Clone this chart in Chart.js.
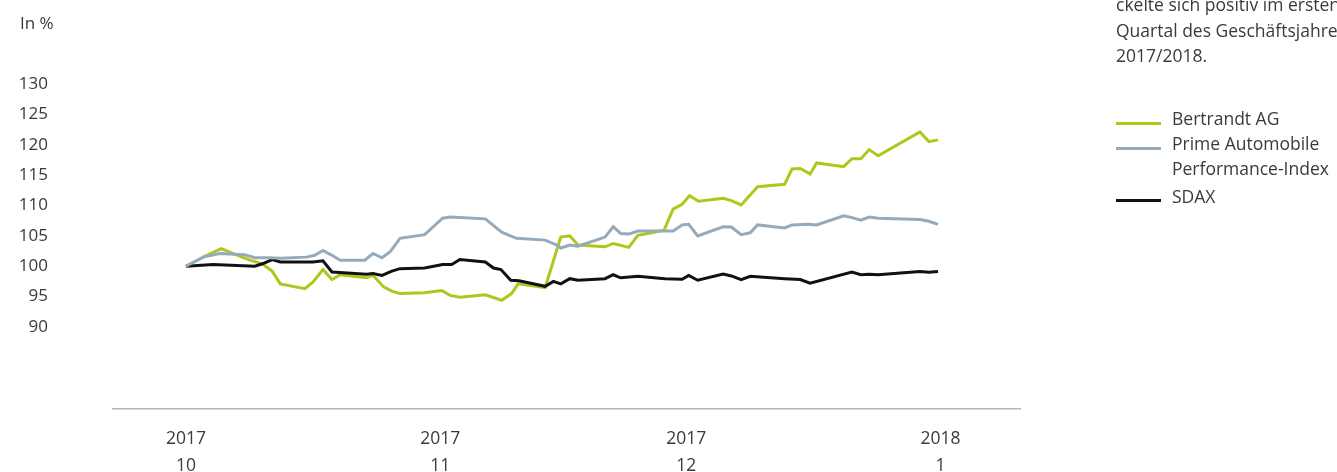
<!DOCTYPE html>
<html>
<head>
<meta charset="utf-8">
<script src="https://cdn.jsdelivr.net/npm/chart.js@4.4.1/dist/chart.umd.min.js"></script>
<style>
  html, body { margin: 0; padding: 0; background: #fff; }
  body { width: 1337px; height: 472px; overflow: hidden; position: relative;
         font-family: 'Open Sans', 'Noto Sans', sans-serif; color: #3a3a3a; }
  #wrap { position: absolute; left: 0; top: 0; width: 1337px; height: 472px; }
  .txt { position: absolute; font-size: 17.5px; line-height: 25.7px; white-space: pre; }
  .lg { position: absolute; left: 1116px; font-size: 17.5px; line-height: 25px; white-space: pre; }
  .lg i { position: absolute; left: 0; top: 15.5px; width: 45px; height: 3px; }
  .lg span { position: absolute; left: 56px; top: 0; }
</style>
</head>
<body>
<div id="wrap"><canvas id="c" width="1337" height="472"></canvas></div>
<div class="txt" style="left:20px; top:10px; line-height:25px; font-size:17px;">In %</div>
<div class="txt" style="left:1116px; top:-8px;">ckelte sich positiv im ersten
Quartal des Geschäftsjahres
2017/2018.</div>
<div id="legend"></div>
<script>
// days counted from 1 Oct 2017 (x), index values in % (y)
const seriesNames = ['Bertrandt AG', 'Prime Automobile\nPerformance-Index', 'SDAX'];
const seriesColors = ['#afc71c', '#95aabb', '#111111'];

const tickDays = [0, 31, 61, 92];
const tickLabels = [['2017', '10'], ['2017', '11'], ['2017', '12'], ['2018', '1']];
const yTicks = [90, 95, 100, 105, 110, 115, 120, 125, 130];

const bertrandtDays = [0, 2.3, 4.3, 6.3, 7.8, 9.3, 10.5, 11.5, 14.5, 15.5, 16.7, 17.8, 18.8, 22.0, 22.8,
  24.1, 25.1, 26.1, 29.1, 31.2, 32.2, 33.4, 36.5, 38.5, 39.7, 40.5, 43.8, 45.7, 46.8, 47.8, 51.1,
  52.1, 54.0, 55.1, 56.8, 58.3, 59.4, 60.5, 61.4, 62.5, 65.5, 66.5, 67.7, 69.7, 73.0, 73.9, 74.9,
  76.1, 76.9, 80.2, 81.2, 82.3, 83.3, 84.4, 89.5, 90.6, 91.7];
const bertrandtValues = [100, 101.65, 102.9, 101.8, 101.0, 100.4, 99.2, 97.1, 96.3, 97.4, 99.45, 97.8, 98.6, 98.1, 98.5,
  96.6, 95.9, 95.5, 95.65, 96.0, 95.2, 94.9, 95.3, 94.4, 95.5, 97.1, 96.5, 104.8, 105.0, 103.5, 103.2,
  103.75, 103.1, 105.1, 105.5, 105.95, 109.4, 110.2, 111.6, 110.7, 111.2, 110.8, 110.1, 113.1, 113.5, 116.0, 116.1,
  115.2, 117.0, 116.4, 117.7, 117.7, 119.2, 118.2, 122.1, 120.5, 120.8];

const primeDays = [0, 2.1, 4.1, 7.2, 8.4, 10.0, 11.5, 14.7, 15.7, 16.7, 17.8, 18.8, 21.8, 22.8, 23.9,
  24.9, 26.1, 29.1, 31.3, 32.2, 36.5, 38.5, 40.3, 43.8, 45.2, 45.7, 46.8, 47.8, 51.1, 52.1, 53.0,
  54.0, 55.1, 58.4, 59.4, 60.5, 61.3, 62.4, 65.5, 66.5, 67.7, 68.8, 69.7, 73.0, 73.9, 75.9, 76.9,
  80.2, 81.2, 82.3, 83.3, 84.4, 89.5, 90.6, 91.7];
const primeValues = [100, 101.5, 102.1, 101.9, 101.4, 101.4, 101.3, 101.5, 101.8, 102.6, 101.8, 101.0, 101.0, 102.1, 101.4,
  102.4, 104.6, 105.2, 107.9, 108.1, 107.8, 105.6, 104.6, 104.3, 103.5, 103.0, 103.5, 103.3, 104.8, 106.5, 105.4,
  105.3, 105.8, 105.8, 105.8, 106.8, 106.9, 105.0, 106.5, 106.45, 105.2, 105.5, 106.8, 106.3, 106.8, 106.9, 106.8,
  108.3, 108.0, 107.6, 108.1, 107.9, 107.7, 107.4, 106.9];

const sdaxDays = [0, 3.3, 8.4, 9.4, 10.5, 11.5, 15.5, 16.7, 17.8, 22.0, 22.8, 23.9, 25.1, 26.1, 29.1,
  31.3, 32.4, 33.4, 36.5, 37.5, 38.4, 39.6, 40.6, 43.8, 44.8, 45.7, 46.8, 47.8, 51.1, 52.1, 53.0,
  55.1, 58.4, 60.5, 61.3, 62.4, 65.5, 66.5, 67.7, 68.8, 73.0, 74.9, 76.1, 81.2, 82.3, 83.3, 84.4,
  89.5, 90.6, 91.7];
const sdaxValues = [100, 100.3, 100.0, 100.45, 101.1, 100.7, 100.7, 100.9, 99.05, 98.7, 98.8, 98.5, 99.2, 99.6, 99.7,
  100.3, 100.3, 101.1, 100.7, 99.7, 99.45, 97.7, 97.6, 96.7, 97.5, 97.1, 97.95, 97.7, 97.95, 98.6, 98.1,
  98.35, 97.95, 97.85, 98.5, 97.7, 98.7, 98.4, 97.8, 98.35, 97.95, 97.8, 97.2, 99.05, 98.6, 98.7, 98.6,
  99.15, 99.0, 99.15];

const toPoints = (xs, ys) => xs.map((x, i) => ({ x: x, y: ys[i] }));

const lineStyle = { borderWidth: 3, pointRadius: 0, pointHoverRadius: 0, tension: 0, fill: false };

new Chart(document.getElementById('c'), {
  type: 'line',
  data: {
    datasets: [
      { ...lineStyle, label: seriesNames[1], data: toPoints(primeDays, primeValues), borderColor: seriesColors[1] },
      { ...lineStyle, label: seriesNames[2], data: toPoints(sdaxDays, sdaxValues), borderColor: seriesColors[2] },
      { ...lineStyle, label: seriesNames[0], data: toPoints(bertrandtDays, bertrandtValues), borderColor: seriesColors[0] }
    ]
  },
  options: {
    responsive: false,
    animation: false,
    layout: { padding: { left: 20, top: 84, right: 317, bottom: 0 } },
    plugins: { legend: { display: false }, tooltip: { enabled: false } },
    scales: {
      x: {
        type: 'linear',
        min: -8.9,
        max: 101.7,
        afterBuildTicks: s => { s.ticks = tickDays.map(v => ({ value: v })); },
        afterFit: s => { s.height = 63; },
        grid: { display: false, drawTicks: false },
        border: { display: true, color: '#a9bac8', width: 1.5 },
        ticks: {
          padding: 17,
          maxRotation: 0,
          autoSkip: false,
          color: '#3a3a3a',
          font: { family: "'Open Sans', sans-serif", size: 17.5, lineHeight: 26.5 / 17.5 },
          callback: v => tickLabels[tickDays.indexOf(v)]
        }
      },
      y: {
        min: 76.5,
        max: 130,
        afterBuildTicks: s => { s.ticks = yTicks.map(v => ({ value: v })); },
        // the big label gap would otherwise also be added as top/bottom padding
        afterFit: s => { s.width = 93; s.paddingTop = 0; s.paddingBottom = 0; },
        grid: { display: false, drawTicks: false },
        border: { display: false },
        ticks: {
          padding: 65,
          color: '#3a3a3a',
          font: { family: "'Open Sans', sans-serif", size: 17 }
        }
      }
    }
  }
});

// legend built from the series names and colours
const legendRows = [{ i: 0, top: 106 }, { i: 1, top: 131 }, { i: 2, top: 183.6 }];
document.getElementById('legend').innerHTML = legendRows.map(r =>
  `<div class="lg" style="top:${r.top}px"><i style="background:${seriesColors[r.i]}"></i><span>${seriesNames[r.i]}</span></div>`
).join('');
</script>
</body>
</html>
